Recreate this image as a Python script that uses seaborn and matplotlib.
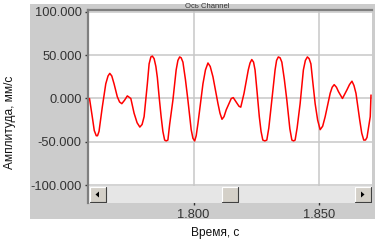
import numpy as np
import pandas as pd
import matplotlib
matplotlib.use("Agg")
import matplotlib.pyplot as plt
from matplotlib.patches import Rectangle, Polygon
import seaborn as sns

# values (time in s, amplitude in mm/s)
time = [1.7584, 1.7595, 1.7603, 1.7611, 1.7616, 1.7622, 1.7635, 1.7649, 1.7658,
        1.7665, 1.7673, 1.7682, 1.7695, 1.7704, 1.7713, 1.7724, 1.7735, 1.7749,
        1.7762, 1.7774, 1.7785, 1.7794, 1.7802, 1.7815, 1.7822, 1.7829, 1.7835,
        1.7842, 1.7849, 1.7855, 1.7862, 1.7870, 1.7877, 1.7884, 1.7890, 1.7897,
        1.7904, 1.7917, 1.7930, 1.7937, 1.7944, 1.7950, 1.7957, 1.7967, 1.7977,
        1.7990, 1.7997, 1.8004, 1.8010, 1.8017, 1.8037, 1.8047, 1.8057, 1.8066,
        1.8077, 1.8097, 1.8105, 1.8113, 1.8121, 1.8130, 1.8150, 1.8158, 1.8174,
        1.8181, 1.8188, 1.8201, 1.8218, 1.8225, 1.8232, 1.8239, 1.8245, 1.8253,
        1.8262, 1.8269, 1.8276, 1.8284, 1.8292, 1.8300, 1.8312, 1.8325, 1.8331,
        1.8338, 1.8345, 1.8352, 1.8362, 1.8372, 1.8384, 1.8392, 1.8399, 1.8405,
        1.8413, 1.8425, 1.8438, 1.8446, 1.8454, 1.8461, 1.8468, 1.8476, 1.8485,
        1.8495, 1.8505, 1.8515, 1.8525, 1.8545, 1.8553, 1.8561, 1.8570, 1.8578,
        1.8594, 1.8612, 1.8622, 1.8632, 1.8640, 1.8648, 1.8663, 1.8671, 1.8679,
        1.8686, 1.8692, 1.8705, 1.8708]
amplitude = [0, -21, -37, -43, -43, -38, -10, 17, 26,
             29, 26, 17, 2, -4, -6, -2, 3, 0,
             -17, -28, -33, -30, -21, 17, 40, 48, 49,
             46, 37, 24, 2, -21, -38, -48, -49, -48,
             -30, -2, 33, 44, 48, 47, 42, 22, -2,
             -36, -46, -49, -43, -29, 17, 33, 41, 37,
             25, -6, -17, -24, -21, -13, 0, 1, -6,
             -9, -10, 6, 33, 41, 45, 42, 33, 8,
             -21, -38, -48, -49, -48, -34, -2, 33, 44,
             48, 47, 42, 22, -2, -35, -48, -49, -48,
             -34, -6, 33, 44, 48, 46, 40, 18, -6,
             -25, -36, -32, -21, 6, 13, 16, 13, 8,
             0, 10, 16, 20, 15, 6, -25, -40, -48,
             -48, -45, -21, 4]

y_ticks = [-100, -50, 0, 50, 100]
x_ticks = [1.800, 1.850]

df = pd.DataFrame({"t": time, "a": amplitude})

sns.set_theme(style="white")
plt.rcParams["font.family"] = ["Liberation Sans", "DejaVu Sans"]

W, H = 375, 244
fig = plt.figure(figsize=(W / 100, H / 100), dpi=100)
fig.patch.set_facecolor("white")

# grey panel behind the plot
bg = fig.add_axes([30 / W, 1 - 219 / H, 345 / W, 215 / H], zorder=-1)
bg.set_facecolor("#cccccc")
bg.set_xticks([])
bg.set_yticks([])
for s in bg.spines.values():
    s.set_visible(False)

ax = fig.add_axes([88 / W, 1 - 203 / H, 284 / W, 193 / H])
ax.set_facecolor("white")
sns.lineplot(data=df, x="t", y="a", ax=ax, color="#ff0000", lw=1.1, zorder=3)

ax.set_xlim(1.7578, 1.8712)
ax.set_ylim(-120.7, 102.2)
ax.set_yticks(y_ticks)
ax.set_yticklabels([f"{v:.3f}" for v in y_ticks])
ax.set_xticks(x_ticks)
ax.set_xticklabels([f"{v:.3f}" for v in x_ticks])
ax.grid(True, color="#c8c8c8", lw=1.1)
ax.set_axisbelow(True)
ax.tick_params(axis="y", length=2, width=1, color="#333333", direction="out",
               pad=2.5, labelsize=9.3, labelcolor="#333333", left=True)
ax.tick_params(axis="x", length=3, width=1, color="#333333", direction="inout",
               pad=3, labelsize=9.3, labelcolor="#333333", bottom=True)
ax.set_xlabel("")
ax.set_ylabel("")
for side in ["left", "top"]:
    ax.spines[side].set_color("#7f7f7f")
    ax.spines[side].set_linewidth(1.6)
for side in ["right", "bottom"]:
    ax.spines[side].set_visible(False)

fig.text(215 / W, 1 - 233 / H, "Время, с", ha="center", va="center",
         fontsize=8.6, color="#111111")
fig.text(10 / W, 0.5, "Амплитуда, мм/с", ha="center", va="center",
         rotation=90, fontsize=8.6, color="#111111")
# small channel caption above the plot
fig.text(207 / W, 1 - 8 / H, "Ось Channel", ha="center", va="baseline",
         fontsize=5.5, color="#333333")

# scrollbar drawn over the bottom of the plot
sb = fig.add_axes([88.5 / W, 1 - 203 / H, 283 / W, 17 / H])
sb.set_xlim(0, 283)
sb.set_ylim(0, 17)
sb.axis("off")
sb.add_patch(Rectangle((0, 0), 283, 17, fc="#e6e6e6", ec="none"))


def button(x0, w):
    sb.add_patch(Rectangle((x0, 1), w, 15, fc="#d4d0c8", ec="none"))
    sb.plot([x0, x0, x0 + w], [1, 16, 16], color="white", lw=0.8)
    sb.plot([x0, x0 + w, x0 + w], [1, 1, 16], color="#404040", lw=0.8)


button(1, 16)
sb.add_patch(Polygon([[7, 8.5], [10.5, 5.5], [10.5, 11.5]], fc="black", ec="none"))
button(133, 16.5)
button(266.5, 15.5)
sb.add_patch(Polygon([[276, 8.5], [272.5, 5.5], [272.5, 11.5]], fc="black", ec="none"))

fig.savefig("out.png", dpi=100)
